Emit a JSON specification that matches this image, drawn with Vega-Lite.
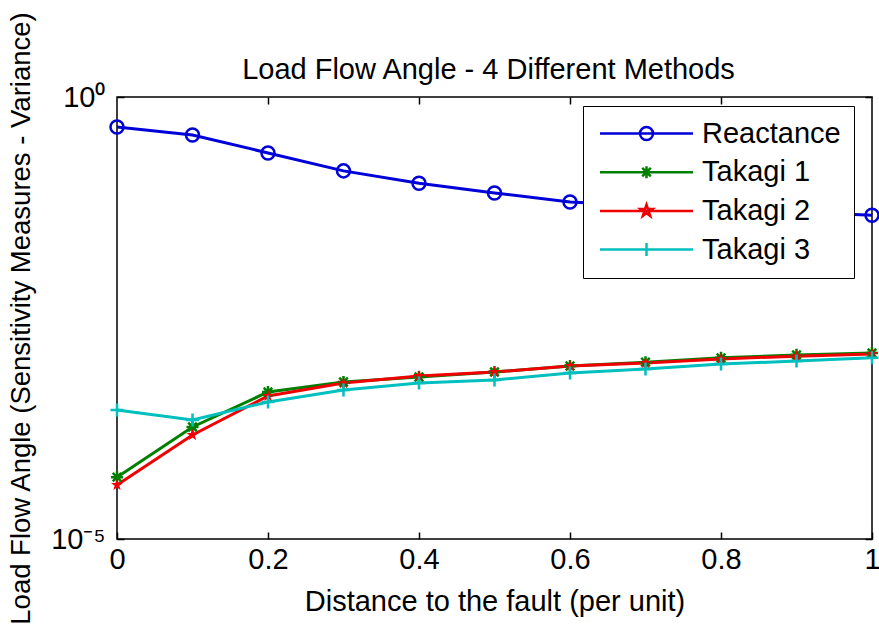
{
  "$schema": "https://vega.github.io/schema/vega-lite/v6.json",
  "width": 755,
  "height": 442,
  "autosize": {"type": "none"},
  "padding": {"left": 117, "top": 97, "right": 7, "bottom": 90},
  "background": "white",
  "config": {
    "view": {"stroke": "black", "strokeWidth": 1.5},
    "font": "Liberation Sans",
    "axis": {
      "grid": false,
      "domain": false,
      "tickColor": "black",
      "tickWidth": 1.5,
      "labelColor": "black",
      "titleColor": "black",
      "labelFont": "Liberation Sans",
      "titleFont": "Liberation Sans",
      "titleFontWeight": "normal"
    }
  },
  "title": {
    "text": "Load Flow Angle - 4 Different Methods",
    "fontSize": 29,
    "fontWeight": "normal",
    "font": "Liberation Sans",
    "color": "black",
    "frame": "group",
    "anchor": "middle",
    "baseline": "alphabetic",
    "offset": -97,
    "dx": -6
  },
  "resolve": {"axis": {"x": "independent", "y": "independent"}},
  "data": {
    "values": [
      {"series": "Reactance", "distance": 0.0, "value": 0.458},
      {"series": "Reactance", "distance": 0.1, "value": 0.372},
      {"series": "Reactance", "distance": 0.2, "value": 0.233},
      {"series": "Reactance", "distance": 0.3, "value": 0.146},
      {"series": "Reactance", "distance": 0.4, "value": 0.106},
      {"series": "Reactance", "distance": 0.5, "value": 0.082},
      {"series": "Reactance", "distance": 0.6, "value": 0.065},
      {"series": "Reactance", "distance": 0.7, "value": 0.059},
      {"series": "Reactance", "distance": 0.8, "value": 0.054},
      {"series": "Reactance", "distance": 0.9, "value": 0.05},
      {"series": "Reactance", "distance": 1.0, "value": 0.046},
      {"series": "Takagi 1", "distance": 0.0, "value": 0.000050},
      {"series": "Takagi 1", "distance": 0.1, "value": 0.000185},
      {"series": "Takagi 1", "distance": 0.2, "value": 0.00046},
      {"series": "Takagi 1", "distance": 0.3, "value": 0.000597},
      {"series": "Takagi 1", "distance": 0.4, "value": 0.00068},
      {"series": "Takagi 1", "distance": 0.5, "value": 0.000775},
      {"series": "Takagi 1", "distance": 0.6, "value": 0.000906},
      {"series": "Takagi 1", "distance": 0.7, "value": 0.00100},
      {"series": "Takagi 1", "distance": 0.8, "value": 0.00112},
      {"series": "Takagi 1", "distance": 0.9, "value": 0.00121},
      {"series": "Takagi 1", "distance": 1.0, "value": 0.00127},
      {"series": "Takagi 2", "distance": 0.0, "value": 0.0000408},
      {"series": "Takagi 2", "distance": 0.1, "value": 0.00015},
      {"series": "Takagi 2", "distance": 0.2, "value": 0.000415},
      {"series": "Takagi 2", "distance": 0.3, "value": 0.00058},
      {"series": "Takagi 2", "distance": 0.4, "value": 0.000698},
      {"series": "Takagi 2", "distance": 0.5, "value": 0.000775},
      {"series": "Takagi 2", "distance": 0.6, "value": 0.000906},
      {"series": "Takagi 2", "distance": 0.7, "value": 0.00098},
      {"series": "Takagi 2", "distance": 0.8, "value": 0.00109},
      {"series": "Takagi 2", "distance": 0.9, "value": 0.00117},
      {"series": "Takagi 2", "distance": 1.0, "value": 0.00124},
      {"series": "Takagi 3", "distance": 0.0, "value": 0.000288},
      {"series": "Takagi 3", "distance": 0.1, "value": 0.000222},
      {"series": "Takagi 3", "distance": 0.2, "value": 0.000355},
      {"series": "Takagi 3", "distance": 0.3, "value": 0.000485},
      {"series": "Takagi 3", "distance": 0.4, "value": 0.000582},
      {"series": "Takagi 3", "distance": 0.5, "value": 0.00063},
      {"series": "Takagi 3", "distance": 0.6, "value": 0.000755},
      {"series": "Takagi 3", "distance": 0.7, "value": 0.000837},
      {"series": "Takagi 3", "distance": 0.8, "value": 0.000955},
      {"series": "Takagi 3", "distance": 0.9, "value": 0.00103},
      {"series": "Takagi 3", "distance": 1.0, "value": 0.00112}
    ]
  },
  "layer": [
    {
      "mark": {"type": "line", "strokeWidth": 3},
      "encoding": {
        "x": {
          "field": "distance",
          "type": "quantitative",
          "scale": {"domain": [0, 1], "nice": false, "zero": false},
          "axis": {
            "values": [0, 0.2, 0.4, 0.6, 0.8, 1],
            "format": "~g",
            "labelFlush": false,
            "labelFontSize": 29,
            "labelBaseline": "alphabetic",
            "labelPadding": 36,
            "tickSize": -7,
            "title": "Distance to the fault (per unit)",
            "titleFontSize": 29,
            "titleBaseline": "alphabetic",
            "titleY": 71
          }
        },
        "y": {
          "field": "value",
          "type": "quantitative",
          "scale": {"type": "log", "domain": [0.00001, 1], "nice": false},
          "axis": {
            "values": [0.00001, 1],
            "labelExpr": "datum.value > 0.5 ? '10⁰' : '10⁻⁵'",
            "labelFontSize": 29,
            "labelPadding": 19,
            "labelBaseline": "middle",
            "tickSize": -7,
            "title": "Load Flow Angle (Sensitivity Measures - Variance)",
            "titleFontSize": 27.5,
            "titleAngle": 270,
            "titleBaseline": "alphabetic",
            "titleAlign": "center",
            "titleX": -88,
            "titleY": 221
          }
        },
        "color": {
          "field": "series",
          "type": "nominal",
          "scale": {
            "domain": ["Reactance", "Takagi 1", "Takagi 2", "Takagi 3"],
            "range": ["#0000d8", "#008000", "#f00000", "#00bfbf"]
          },
          "legend": {
            "title": null,
            "orient": "none",
            "legendX": 466,
            "legendY": 9,
            "fillColor": "white",
            "strokeColor": "black",
            "padding": 13,
            "labelFontSize": 29,
            "labelFont": "Liberation Sans",
            "labelColor": "black",
            "symbolSize": 196,
            "symbolStrokeWidth": 2.5,
            "symbolOffset": 36,
            "labelOffset": 41,
            "rowPadding": 8.7,
            "symbolType": {"expr": "datum.value === 'Reactance' ? 'M-6.64,0H6.64M0.93,0A0.93,0.93 0 1,1 -0.93,0A0.93,0.93 0 1,1 0.93,0' : datum.value === 'Takagi 1' ? 'M-6.64,0H6.64M0,-0.86V0.86M-0.61,-0.61L0.61,0.61M-0.61,0.61L0.61,-0.61' : datum.value === 'Takagi 2' ? 'M-6.64,0H6.64M0,-0.9L0.206,-0.283L0.856,-0.278L0.333,0.108L0.529,0.728L0,0.35L-0.529,0.728L-0.333,0.108L-0.856,-0.278L-0.206,-0.283Z' : 'M-6.64,0H6.64M0,-0.93V0.93'"}
          }
        }
      }
    },
    {
      "transform": [{"filter": "datum.series === 'Reactance'"}],
      "mark": {"type": "point", "filled": false, "strokeWidth": 2.5, "size": 196, "opacity": 1, "color": "#0000d8",
               "shape": "M0.93,0A0.93,0.93 0 1,1 -0.93,0A0.93,0.93 0 1,1 0.93,0"},
      "encoding": {
        "x": {
          "field": "distance",
          "type": "quantitative",
          "axis": {"orient": "top", "values": [0.2, 0.4, 0.6, 0.8], "labels": false, "tickSize": -7, "title": null}
        },
        "y": {
          "field": "value",
          "type": "quantitative",
          "axis": {"orient": "right", "values": [0.00001, 1], "labels": false, "tickSize": -7, "title": null}
        }
      }
    },
    {
      "transform": [{"filter": "datum.series === 'Takagi 1'"}],
      "mark": {"type": "point", "filled": false, "strokeWidth": 2.5, "size": 196, "opacity": 1, "color": "#008000",
               "shape": "M0,-0.86V0.86M-0.61,-0.61L0.61,0.61M-0.61,0.61L0.61,-0.61M-0.86,0H0.86"},
      "encoding": {
        "x": {"field": "distance", "type": "quantitative", "axis": null},
        "y": {"field": "value", "type": "quantitative", "axis": null}
      }
    },
    {
      "transform": [{"filter": "datum.series === 'Takagi 2'"}],
      "mark": {"type": "point", "filled": true, "strokeWidth": 2, "size": 196, "opacity": 1, "color": "#f00000",
               "shape": "M0,-0.9L0.206,-0.283L0.856,-0.278L0.333,0.108L0.529,0.728L0,0.35L-0.529,0.728L-0.333,0.108L-0.856,-0.278L-0.206,-0.283Z"},
      "encoding": {
        "x": {"field": "distance", "type": "quantitative", "axis": null},
        "y": {"field": "value", "type": "quantitative", "axis": null}
      }
    },
    {
      "transform": [{"filter": "datum.series === 'Takagi 3'"}],
      "mark": {"type": "point", "filled": false, "strokeWidth": 2.5, "size": 196, "opacity": 1, "color": "#00bfbf",
               "shape": "M-0.93,0H0.93M0,-0.93V0.93"},
      "encoding": {
        "x": {"field": "distance", "type": "quantitative", "axis": null},
        "y": {"field": "value", "type": "quantitative", "axis": null}
      }
    }
  ]
}
